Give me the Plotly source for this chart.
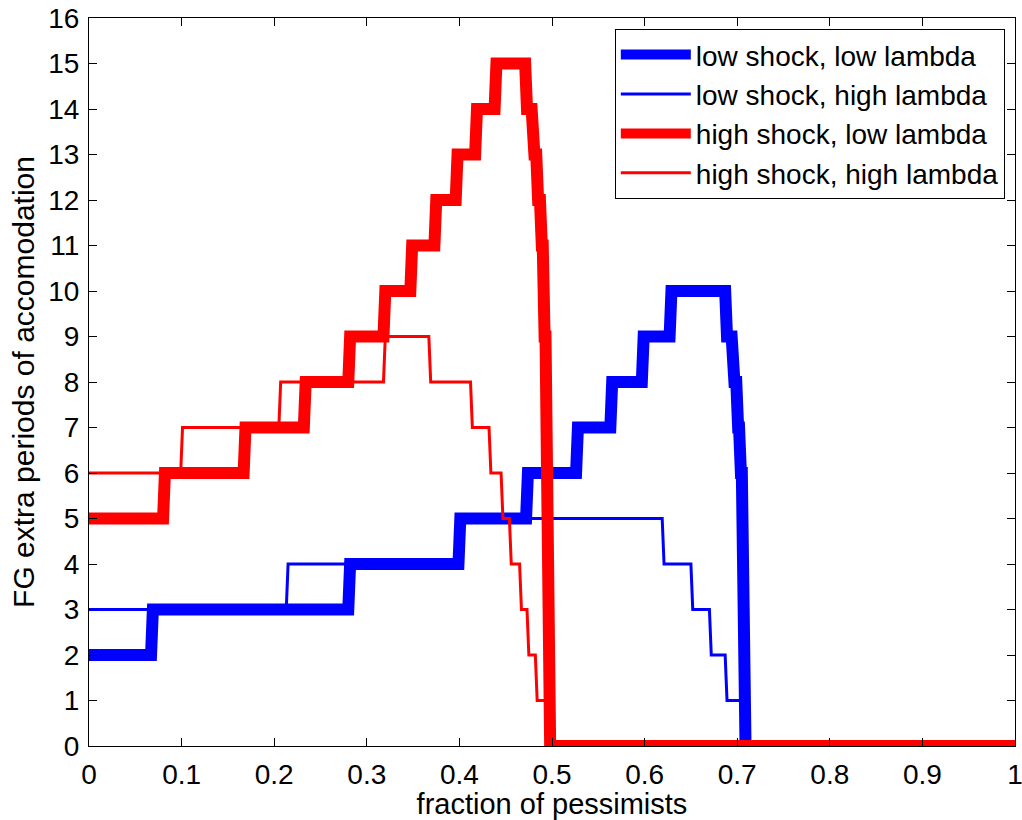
import plotly.graph_objects as go

# low shock, low lambda (thick blue)
x_ls_ll = [0, 0.067, 0.069, 0.280, 0.282, 0.399, 0.401, 0.472, 0.474, 0.526, 0.528,
           0.563, 0.565, 0.597, 0.599, 0.627, 0.629, 0.687, 0.689, 0.694, 0.697,
           0.699, 0.701, 0.702, 0.704, 0.705, 0.709, 1]
y_ls_ll = [2, 2, 3, 3, 4, 4, 5, 5, 6, 6, 7, 7, 8, 8, 9, 9, 10, 10, 9, 9, 8, 8, 7, 7, 6, 6, 0, 0]

# low shock, high lambda (thin blue)
x_ls_hl = [0, 0.213, 0.215, 0.399, 0.401, 0.619, 0.621, 0.650, 0.652, 0.670,
           0.672, 0.687, 0.689, 0.702, 0.704, 0.706, 0.708, 1]
y_ls_hl = [3, 3, 4, 4, 5, 5, 4, 4, 3, 3, 2, 2, 1, 1, 1, 1, 0, 0]

# high shock, low lambda (thick red)
x_hs_ll = [0, 0.080, 0.082, 0.167, 0.169, 0.232, 0.234, 0.280, 0.282, 0.318, 0.320,
           0.347, 0.349, 0.373, 0.375, 0.396, 0.398, 0.417, 0.419, 0.438, 0.440,
           0.471, 0.473, 0.478, 0.481, 0.483, 0.485, 0.487, 0.489, 0.490, 0.492,
           0.493, 0.498, 1]
y_hs_ll = [5, 5, 6, 6, 7, 7, 8, 8, 9, 9, 10, 10, 11, 11, 12, 12, 13, 13, 14, 14, 15,
           15, 14, 14, 13, 13, 12, 12, 11, 11, 9, 9, 0, 0]

# high shock, high lambda (thin red)
x_hs_hl = [0, 0.099, 0.101, 0.205, 0.207, 0.318, 0.320, 0.367, 0.369, 0.412, 0.414,
           0.432, 0.434, 0.445, 0.447, 0.454, 0.456, 0.465, 0.467, 0.473, 0.475,
           0.482, 0.484, 0.489, 0.491, 0.495, 0.497, 1]
y_hs_hl = [6, 6, 7, 7, 8, 8, 9, 9, 8, 8, 7, 7, 6, 6, 5, 5, 4, 4, 3, 3, 2, 2, 1, 1, 1, 1, 0, 0]

x_ticks = [0, 0.1, 0.2, 0.3, 0.4, 0.5, 0.6, 0.7, 0.8, 0.9, 1]
x_tick_labels = ['0', '0.1', '0.2', '0.3', '0.4', '0.5', '0.6', '0.7', '0.8', '0.9', '1']
y_ticks = list(range(0, 17))

series = [
    ('low shock, low lambda', x_ls_ll, y_ls_ll, 'rgb(0,0,255)', 12),
    ('low shock, high lambda', x_ls_hl, y_ls_hl, 'rgb(0,0,255)', 3),
    ('high shock, low lambda', x_hs_ll, y_hs_ll, 'rgb(255,0,0)', 12),
    ('high shock, high lambda', x_hs_hl, y_hs_hl, 'rgb(255,0,0)', 3),
]

fig = go.Figure()
for name, xs, ys, color, width in series:
    fig.add_trace(go.Scatter(
        x=xs, y=ys, mode='lines', name=name,
        line=dict(color=color, width=width),
    ))

axis_style = dict(
    showline=True, linecolor='black', linewidth=1, mirror='ticks',
    ticks='inside', ticklen=8, tickcolor='black', tickwidth=1,
    showgrid=False, zeroline=False, automargin=False,
    tickfont=dict(size=28, color='black'),
    ticklabelstandoff=3, ticklabeloverflow='allow',
)

fig.update_layout(
    width=1022, height=820,
    margin=dict(l=89, r=7, t=18, b=74),
    paper_bgcolor='white', plot_bgcolor='white',
    font=dict(family='Liberation Sans, Arial, sans-serif', size=29, color='black'),
    xaxis=dict(range=[0, 1], tickvals=x_ticks, ticktext=x_tick_labels,
               title=dict(text='fraction of pessimists', font=dict(size=29), standoff=0),
               **axis_style),
    yaxis=dict(range=[0, 16], tickvals=y_ticks,
               title=dict(text='FG extra periods of accomodation', font=dict(size=30), standoff=4),
               **axis_style),
    legend=dict(x=0.989, y=0.985, xanchor='right', yanchor='top',
                bgcolor='white', bordercolor='black', borderwidth=1,
                font=dict(size=28), itemwidth=70),
    showlegend=True,
)

# page margin off so the figure sits at the window's top-left corner
fig.write_html("out.html", config={'displayModeBar': False},
               post_script="document.body.style.margin='0';document.body.style.overflow='hidden';")
